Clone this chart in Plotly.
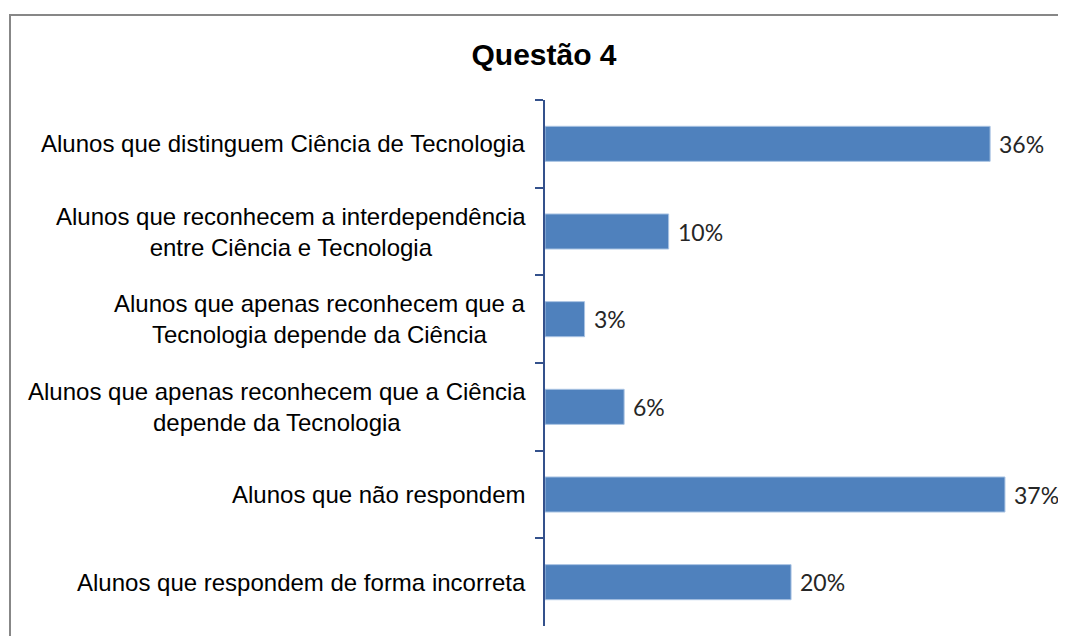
import plotly.graph_objects as go

title = "Questão 4"
categories = [
    "Alunos que distinguem Ciência de Tecnologia",
    "Alunos que reconhecem a interdependência<br>entre Ciência e Tecnologia",
    "Alunos que apenas reconhecem que a<br>Tecnologia depende da Ciência",
    "Alunos que apenas reconhecem que a Ciência<br>depende da Tecnologia",
    "Alunos que não respondem",
    "Alunos que respondem de forma incorreta",
]
values = [36.0, 10.0, 3.2, 6.4, 37.2, 19.9]
value_labels = ["36%", "10%", "3%", "6%", "37%", "20%"]

# the page body adds an 8px margin on every side
OFF = 8
W, H = 1066 - 2 * OFF, 644 - 2 * OFF
L, T = 545 - OFF, 100 - OFF
R = W - (1047 - OFF)
B = H - (626 - OFF)
plot_w = W - L - R
plot_h = H - T - B

fig = go.Figure()
fig.add_trace(go.Bar(
    x=values,
    y=categories,
    orientation="h",
    marker=dict(color="#4F81BD", line=dict(color="#A9C3E3", width=1)),
    hoverinfo="skip",
    showlegend=False,
))

annotations = []
for c in categories:
    annotations.append(dict(
        x=0, y=c, xref="paper", yref="y",
        text=c, showarrow=False, xanchor="right", yanchor="middle",
        align="center", xshift=-17,
        font=dict(family="Liberation Sans, Arial, sans-serif", size=24, color="#000000"),
    ))
for c, v, t in zip(categories, values, value_labels):
    annotations.append(dict(
        x=v, y=c, xref="x", yref="y",
        text=t, showarrow=False, xanchor="left", yanchor="middle",
        xshift=7,
        font=dict(family="Lato, Open Sans, sans-serif", size=23, color="#262626"),
    ))

fig.update_layout(
    width=W, height=H,
    margin=dict(l=L, r=R, t=T, b=B),
    paper_bgcolor="white",
    plot_bgcolor="white",
    bargap=0.6,
    title=dict(
        text=title, xref="container", yref="container",
        x=(544 - OFF) / W, y=1 - (54 - OFF) / H, xanchor="center", yanchor="middle",
        font=dict(family="Liberation Sans, Arial, sans-serif", size=30, color="#000000", weight="bold"),
    ),
    xaxis=dict(range=[0, 40.6], visible=False, fixedrange=True),
    yaxis=dict(
        type="category",
        autorange="reversed",
        showline=True, linecolor="#34518C", linewidth=1.5,
        ticks="outside", tickson="boundaries", ticklen=8, tickcolor="#34518C", tickwidth=1.5,
        showticklabels=False, showgrid=False, zeroline=False,
    ),
    annotations=annotations,
    shapes=[dict(
        type="rect", xref="paper", yref="paper",
        x0=(10 - 545) / plot_w, x1=2.0,
        y0=-1.0, y1=1 + (100 - 15) / plot_h,
        line=dict(color="#878787", width=2),
        fillcolor="rgba(0,0,0,0)", layer="below",
    )],
)

fig.write_html("out.html")
